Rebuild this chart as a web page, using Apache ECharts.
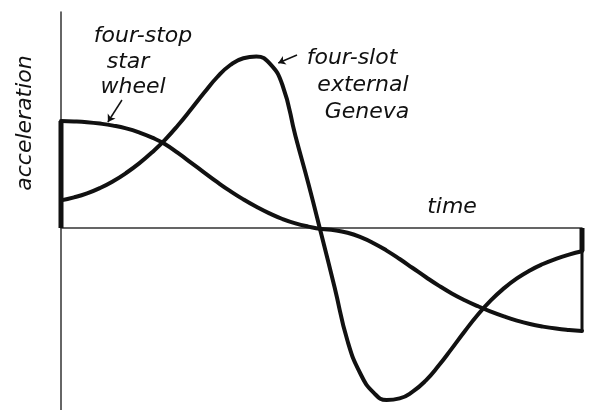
<!DOCTYPE html>
<html>
<head>
<meta charset="utf-8">
<script src="https://cdn.jsdelivr.net/npm/echarts@6/dist/echarts.min.js"></script>
<style>
  html, body { margin: 0; padding: 0; background: #fff; }
  #chartContainer { width: 591px; height: 410px; }
</style>
</head>
<body>
<div id="chartContainer"></div>
<script>
// time runs 0..100, acceleration in arbitrary units (0 = time axis)
var time = [0, 2.5, 5, 7.5, 10, 12.5, 15, 17.5, 20, 22.5, 25, 27.5, 30, 32.5, 35, 37.5, 40, 42.5, 45, 47.5,
            50, 52.5, 55, 57.5, 60, 62.5, 65, 67.5, 70, 72.5, 75, 77.5, 80, 82.5, 85, 87.5, 90, 92.5, 95, 97.5, 100];

var starAccel = [53.5, 53.3, 52.9, 52.2, 51.2, 49.8, 47.8, 45.2, 41.9, 37.4, 32.6, 27.7, 22.9, 18.4, 14.3, 10.6, 7.3, 4.5, 2.3, 0.7,
                 -0.5, -1.1, -2.4, -4.6, -7.6, -11.3, -15.5, -20, -24.5, -28.8, -32.7, -36.1, -39.1, -41.8, -44.2, -46.3, -48, -49.3, -50.3, -51, -51.5];

var genevaAccel = [13.8, 15.3, 17.3, 20, 23.4, 27.5, 32.3, 37.9, 44.2, 51.5, 59.5, 67.7, 75.5, 81.5, 84.9, 85.7, 82.4, 71.5, 46, 22,
                   -3.5, -29.5, -56.5, -73, -82.3, -86, -85.2, -81.8, -76.3, -68.8, -60.3, -51.6, -43.4, -36.2, -30.2, -25.2, -21.2, -18, -15.4, -13.3, -11.6];

var labelStar = ['four-stop', 'star', 'wheel'];
var labelGeneva = ['four-slot', 'external', 'Geneva'];

function pairs(xs, ys) {
    var out = [];
    for (var i = 0; i < xs.length; i++) out.push([xs[i], ys[i]]);
    return out;
}

var ink = '#111';
var font = 'italic 22px "DejaVu Sans", sans-serif';

function note(text, x, y, rot) {
    return {
        type: 'text', x: x, y: y, rotation: rot || 0,
        style: { text: text, fill: ink, font: font, textAlign: 'center', textVerticalAlign: 'middle' }
    };
}

var myChart = echarts.init(document.getElementById('chartContainer'));
var option = {
    animation: false,
    backgroundColor: '#fff',
    grid: { left: 61, right: 9, top: 12, bottom: 0 },
    xAxis: {
        type: 'value', min: 0, max: 100,
        axisLine: { onZero: true, lineStyle: { color: '#333', width: 1.5 } },
        axisTick: { show: false }, axisLabel: { show: false }, splitLine: { show: false }
    },
    yAxis: {
        type: 'value', min: -91, max: 108,
        axisLine: { show: true, lineStyle: { color: '#333', width: 1.5 } },
        axisTick: { show: false }, axisLabel: { show: false }, splitLine: { show: false }
    },
    series: [
        {
            name: 'star wheel', type: 'line', smooth: 0.5, showSymbol: false,
            data: pairs(time, starAccel),
            lineStyle: { color: ink, width: 4, join: 'round', cap: 'round' },
            markLine: {
                silent: true, symbol: ['none', 'arrow'], symbolSize: 7,
                lineStyle: { color: ink, width: 1.5, type: 'solid' }, label: { show: false },
                data: [[{ coord: [11.7, 64] }, { coord: [9.0, 53] }]]
            }
        },
        {
            name: 'geneva', type: 'line', smooth: 0.5, showSymbol: false,
            data: pairs(time, genevaAccel),
            lineStyle: { color: ink, width: 4, join: 'round', cap: 'round' },
            markLine: {
                silent: true, symbol: ['none', 'arrow'], symbolSize: 7,
                lineStyle: { color: ink, width: 1.5, type: 'solid' }, label: { show: false },
                data: [[{ coord: [45.3, 86.5] }, { coord: [41.7, 82.5] }]]
            }
        },
        // jumps in acceleration at the start and end of motion
        {
            type: 'line', showSymbol: false, lineStyle: { color: ink, width: 5 },
            data: [[0, 0], [0, starAccel[0]]]
        },
        {
            type: 'line', showSymbol: false, lineStyle: { color: ink, width: 5 },
            data: [[100, 0], [100, genevaAccel[genevaAccel.length - 1]]]
        },
        {
            type: 'line', showSymbol: false, lineStyle: { color: ink, width: 3 },
            data: [[100, 0], [100, starAccel[starAccel.length - 1]]]
        }
    ],
    graphic: [
        note(labelStar[0], 143, 36),
        note(labelStar[1], 128, 62),
        note(labelStar[2], 133, 87),
        note(labelGeneva[0], 352, 58),
        note(labelGeneva[1], 363, 85),
        note(labelGeneva[2], 367, 112),
        note('time', 452, 207),
        note('acceleration', 25, 123, Math.PI / 2)
    ]
};

myChart.setOption(option);
</script>
</body>
</html>
